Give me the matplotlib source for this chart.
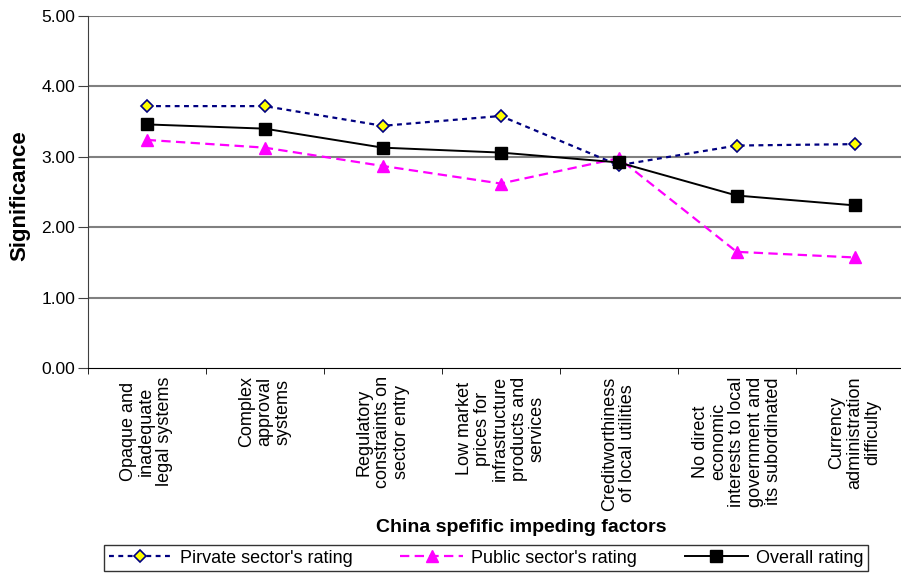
import numpy as np
import matplotlib.pyplot as plt

plt.rcParams['font.family'] = ['Liberation Sans', 'DejaVu Sans']

# fatores e notas medias de cada grupo
fatores = ["Opaque and\ninadequate\nlegal systems",
           "Complex\napproval\nsystems",
           "Regulatory\nconstraints on\nsector entry",
           "Low market\nprices for\ninfrastructure\nproducts and\nservices",
           "Creditworthiness\nof local utilities",
           "No direct\neconomic\ninterests to local\ngovernment and\nits subordinated",
           "Currency\nadministration\ndifficulty"]
privado = [3.72, 3.72, 3.44, 3.58, 2.88, 3.16, 3.18]
publico = [3.24, 3.13, 2.87, 2.62, 2.98, 1.65, 1.57]
geral = [3.46, 3.40, 3.13, 3.06, 2.92, 2.45, 2.31]
yticks = [0, 1, 2, 3, 4, 5]

fig = plt.figure(figsize=(9.01, 5.76), dpi=100)
# o eixo passa um pouco da borda direita da figura
ax = fig.add_axes([87.7/901, 1-368/576, 826/901, 352/576])

x = np.arange(len(fatores))
ax.plot(x, privado, color='#000080', linestyle=(0, (2.2, 2.0)), linewidth=1.6,
        marker='D', markersize=6.5, markerfacecolor='#ffff00',
        markeredgecolor='#000080', markeredgewidth=1.2, label="Pirvate sector's rating")
ax.plot(x, publico, color='#ff00ff', linestyle=(0, (4.2, 2.4)), linewidth=1.6,
        marker='^', markersize=9, markerfacecolor='#ff00ff',
        markeredgecolor='#ff00ff', label="Public sector's rating")
ax.plot(x, geral, color='black', linestyle='-', linewidth=1.4,
        marker='s', markersize=8.5, markerfacecolor='black',
        markeredgecolor='black', label="Overall rating")

ax.set_xlim(-0.5, len(fatores) - 0.5)
ax.set_ylim(0, 5)
ax.set_yticks(yticks)
ax.set_yticklabels(['%.2f' % v for v in yticks], fontsize=12.5)
for v in yticks[1:]:
    ax.axhline(v, color='#808080', linewidth=1.5, zorder=0)

# rotulos no centro, tracinhos nas divisas das categorias
ax.set_xticks(x)
ax.set_xticklabels(fatores, rotation=90, fontsize=13, multialignment='center',
                   linespacing=1.1)
ax.tick_params(axis='x', which='major', length=0, pad=6)
ax.set_xticks(np.arange(len(fatores) + 1) - 0.5, minor=True)
ax.tick_params(axis='x', which='minor', length=4.5, direction='out', color='black')
ax.tick_params(axis='y', length=7, pad=2, direction='out', color='#404040')

ax.spines['top'].set_visible(False)
ax.spines['right'].set_visible(False)
ax.spines['left'].set_color('#404040')
ax.spines['bottom'].set_color('black')

fig.text(20/901, 1-196/576, 'Significance', fontsize=16, fontweight='bold',
         rotation=90, ha='center', va='center')
fig.text(521/901, 1-528/576, 'China spefific impeding factors', fontsize=14,
         fontweight='bold', ha='center', va='center')

leg = fig.legend(loc='upper left', ncol=3, mode='expand',
                 bbox_to_anchor=(104/901, 0, 764/901, 1-545/576),
                 fontsize=13, handlelength=3.5, frameon=True, fancybox=False,
                 borderpad=0.25, handletextpad=0.45, borderaxespad=0)
leg.get_frame().set_edgecolor('black')
leg.get_frame().set_linewidth(1.0)

plt.savefig('out.png', dpi=100)
